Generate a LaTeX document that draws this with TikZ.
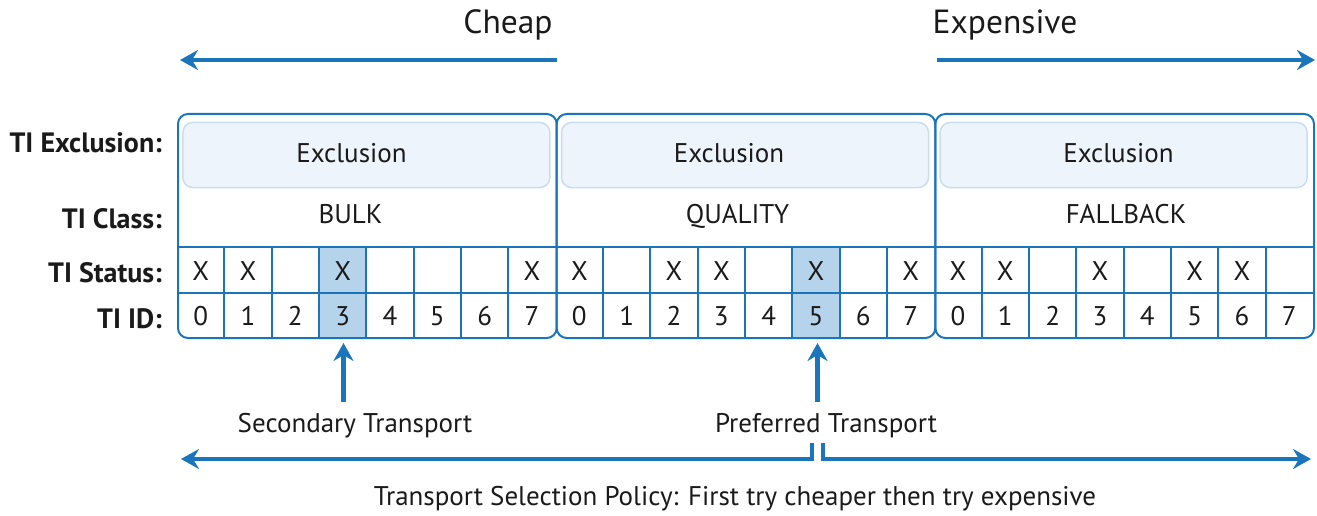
\documentclass[tikz,border=0pt]{standalone}
\usepackage{fontspec}
\setmainfont{PT Sans}
\usetikzlibrary{arrows.meta}
\definecolor{tblue}{HTML}{1B75BB}
\definecolor{hl}{HTML}{B5D3EB}
\definecolor{exfill}{HTML}{EEF4FB}
\definecolor{exdraw}{HTML}{C9DDF0}
\definecolor{txtc}{HTML}{1A1A1A}
\newcommand{\tipanel}[7]{%
  % #1 name, #2 left x, #3 class, #4 X indices, #5 highlighted index, #6 exclusion text x, #7 class text x
  \fill[hl] (#2+#5*47.333,247) rectangle ++(47.333,90);
  \node[panelbox] (P#1) at (#2,113) {};
  \node[exbox] (E#1) at (#2+189.33,155) {};
  \node[txt] (T#1) at (#6,153) {Exclusion};
  \node[txt] (C#1) at (#7,214) {#3};
  \draw[grid] (#2,247) -- ++(378.67,0);
  \draw[grid] (#2,293) -- ++(378.67,0);
  \foreach \k in {1,...,7} {\draw[grid] (#2+\k*47.333,247) -- (#2+\k*47.333,337);}
  \foreach \k in {0,...,7} {\node[txt] (D#1\k) at (#2+\k*47.333+23.667,316) {\k};}
  \foreach \k in {#4} {\node[txt] (S#1\k) at (#2+\k*47.333+23.667,271) {X};}
}
\begin{document}
\begin{tikzpicture}[x=1pt,y=-1pt,
  txt/.style={inner sep=0pt, text height=19pt, text depth=0pt, text=txtc, font=\fontsize{27}{30}\selectfont},
  toptxt/.style={txt, text height=23.5pt, font=\fontsize{33.5}{38}\selectfont},
  lbl/.style={txt, anchor=east, text height=19.6pt, font=\fontsize{28}{32}\selectfont\bfseries},
  panelbox/.style={draw=tblue, line width=2pt, rounded corners=10pt, minimum width=378.67pt, minimum height=224pt, inner sep=0pt, anchor=north west},
  exbox/.style={draw=exdraw, fill=exfill, line width=1.5pt, rounded corners=10pt, minimum width=367pt, minimum height=65pt, inner sep=0pt},
  grid/.style={draw=tblue, line width=2pt},
  bigarrow/.style={draw=tblue, line width=4.5pt, -{Stealth[length=18pt,width=20pt,inset=6pt]}},
]
\useasboundingbox (0,0) rectangle (1317,516);

% top arrows
\node[toptxt] (cheap) at (508,22) {Cheap};
\node[toptxt] (exp) at (1005,22) {Expensive};
\coordinate (cheapR) at (557,60);
\coordinate (cheapL) at (180,60);
\coordinate (expL) at (937,60);
\coordinate (expR) at (1315,60);
\draw[bigarrow] (cheapR) -- (cheapL);
\draw[bigarrow] (expL) -- (expR);

% row labels
\node[lbl] (lex) at (162,143) {TI Exclusion:};
\node[lbl] (lcl) at (162,219) {TI Class:};
\node[lbl] (lst) at (162,273) {TI Status:};
\node[lbl] (lid) at (162,319) {TI ID:};

% panels
\tipanel{b}{177}{BULK}{0,1,3,7}{3}{351.5}{350.5}
\tipanel{q}{555.67}{QUALITY}{0,2,3,5,7}{5}{729}{737.5}
\tipanel{f}{934.33}{FALLBACK}{0,1,3,5,6}{99}{1118.5}{1126}

% transports
\node[txt] (sec) at (355,423) {Secondary Transport};
\node[txt] (pref) at (826,423) {Preferred Transport};
\coordinate (secA) at (343.5,402);
\coordinate (secT) at (343.5,343);
\coordinate (prefA) at (817.5,402);
\coordinate (prefT) at (817.5,343);
\draw[bigarrow] (secA) -- (secT);
\draw[bigarrow] (prefA) -- (prefT);

% policy arrows
\coordinate (tl) at (812,443);
\coordinate (tr) at (823,443);
\coordinate (el) at (181,459);
\coordinate (er) at (1311,459);
\draw[bigarrow, line join=miter] (tl) |- (el);
\draw[bigarrow, line join=miter] (tr) |- (er);
\node[txt] (policy) at (735,496) {Transport Selection Policy: First try cheaper then try expensive};
\end{tikzpicture}
\end{document}
